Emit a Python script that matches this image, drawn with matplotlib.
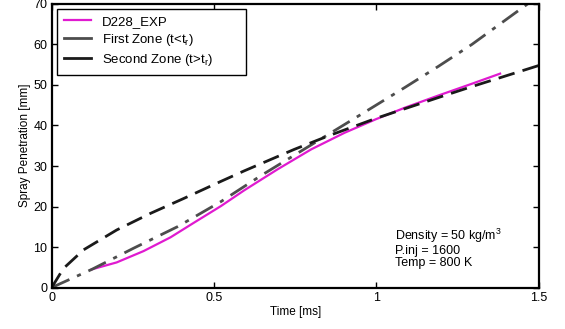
import matplotlib.pyplot as plt
from matplotlib.lines import Line2D

plt.rcParams['font.family'] = ['Liberation Sans', 'DejaVu Sans']

t_exp = [0.124, 0.2, 0.283, 0.366, 0.438, 0.521, 0.593, 0.696, 0.799, 0.902, 1.0, 1.088, 1.191, 1.294, 1.381]
s_exp = [4.5, 6.2, 9.0, 12.4, 16.0, 20.1, 24.0, 29.2, 34.1, 38.2, 41.6, 44.4, 47.4, 50.3, 52.8]

# first zone model (t < t_r)
t_z1 = [0.0, 0.124, 0.252, 0.387, 0.521, 0.644, 0.799, 0.954, 1.088, 1.191, 1.294, 1.397, 1.5]
s_z1 = [0.0, 4.5, 9.7, 15.0, 21.2, 27.6, 35.2, 42.8, 49.4, 54.6, 60.0, 66.0, 72.0]

# second zone model (t > t_r)
t_z2 = [0.0, 0.036, 0.098, 0.2, 0.304, 0.407, 0.521, 0.593, 0.747, 0.851, 1.0, 1.191, 1.294, 1.397, 1.5]
s_z2 = [0.0, 4.7, 9.3, 14.2, 18.3, 22.0, 26.2, 28.8, 34.1, 37.4, 41.8, 46.9, 49.6, 52.2, 54.8]

c_exp = '#e01ad0'
c_z1 = '#4d4d4d'
c_z2 = '#1a1a1a'

fig = plt.figure(figsize=(5.65, 3.29), dpi=100)
ax = fig.add_axes([0.0915, 0.126, 0.862, 0.862])

ax.plot(t_exp, s_exp, color=c_exp, lw=1.6)
ax.plot(t_z1, s_z1, color=c_z1, lw=2, dashes=(7, 3, 1.5, 3))
ax.plot(t_z2, s_z2, color=c_z2, lw=2, dashes=(6, 3))

ax.set_xlim(0, 1.5)
ax.set_ylim(0, 70)
ax.set_xticks([0, 0.5, 1, 1.5])
ax.set_xticklabels(['0', '0.5', '1', '1.5'])
ax.set_yticks(range(0, 71, 10))
ax.tick_params(direction='in', top=True, right=True, length=4, width=1, labelsize=9, pad=3)
for sp in ax.spines.values():
    sp.set_linewidth(1.6)

ax.set_xlabel('Time [ms]', fontsize=8.5, labelpad=2)
ax.set_ylabel('Spray Penetration [mm]', fontsize=8.5, labelpad=2)

handles = [Line2D([], [], color=c_exp, lw=1.6),
           Line2D([], [], color=c_z1, lw=2),
           Line2D([], [], color=c_z2, lw=2)]
labels = ['D228_EXP', r'First Zone (t<t$_\mathregular{r}$)',
          r'Second Zone (t>t$_\mathregular{r}$)' + ' ' * 8]
leg = ax.legend(handles, labels, loc='upper left', fontsize=9.5, fancybox=False,
                edgecolor='black', framealpha=1, handlelength=2.1, borderaxespad=0.4,
                labelspacing=0.3, borderpad=0.5, handletextpad=0.8)
leg.get_frame().set_linewidth(1.0)

ax.text(1.056, 9.8, r'Density = 50 kg/m$^\mathregular{3}$' + '\nP.inj = 1600\nTemp = 800 K',
        fontsize=9, va='center', ha='left', linespacing=1.0)

fig.savefig('out.png', dpi=100)
